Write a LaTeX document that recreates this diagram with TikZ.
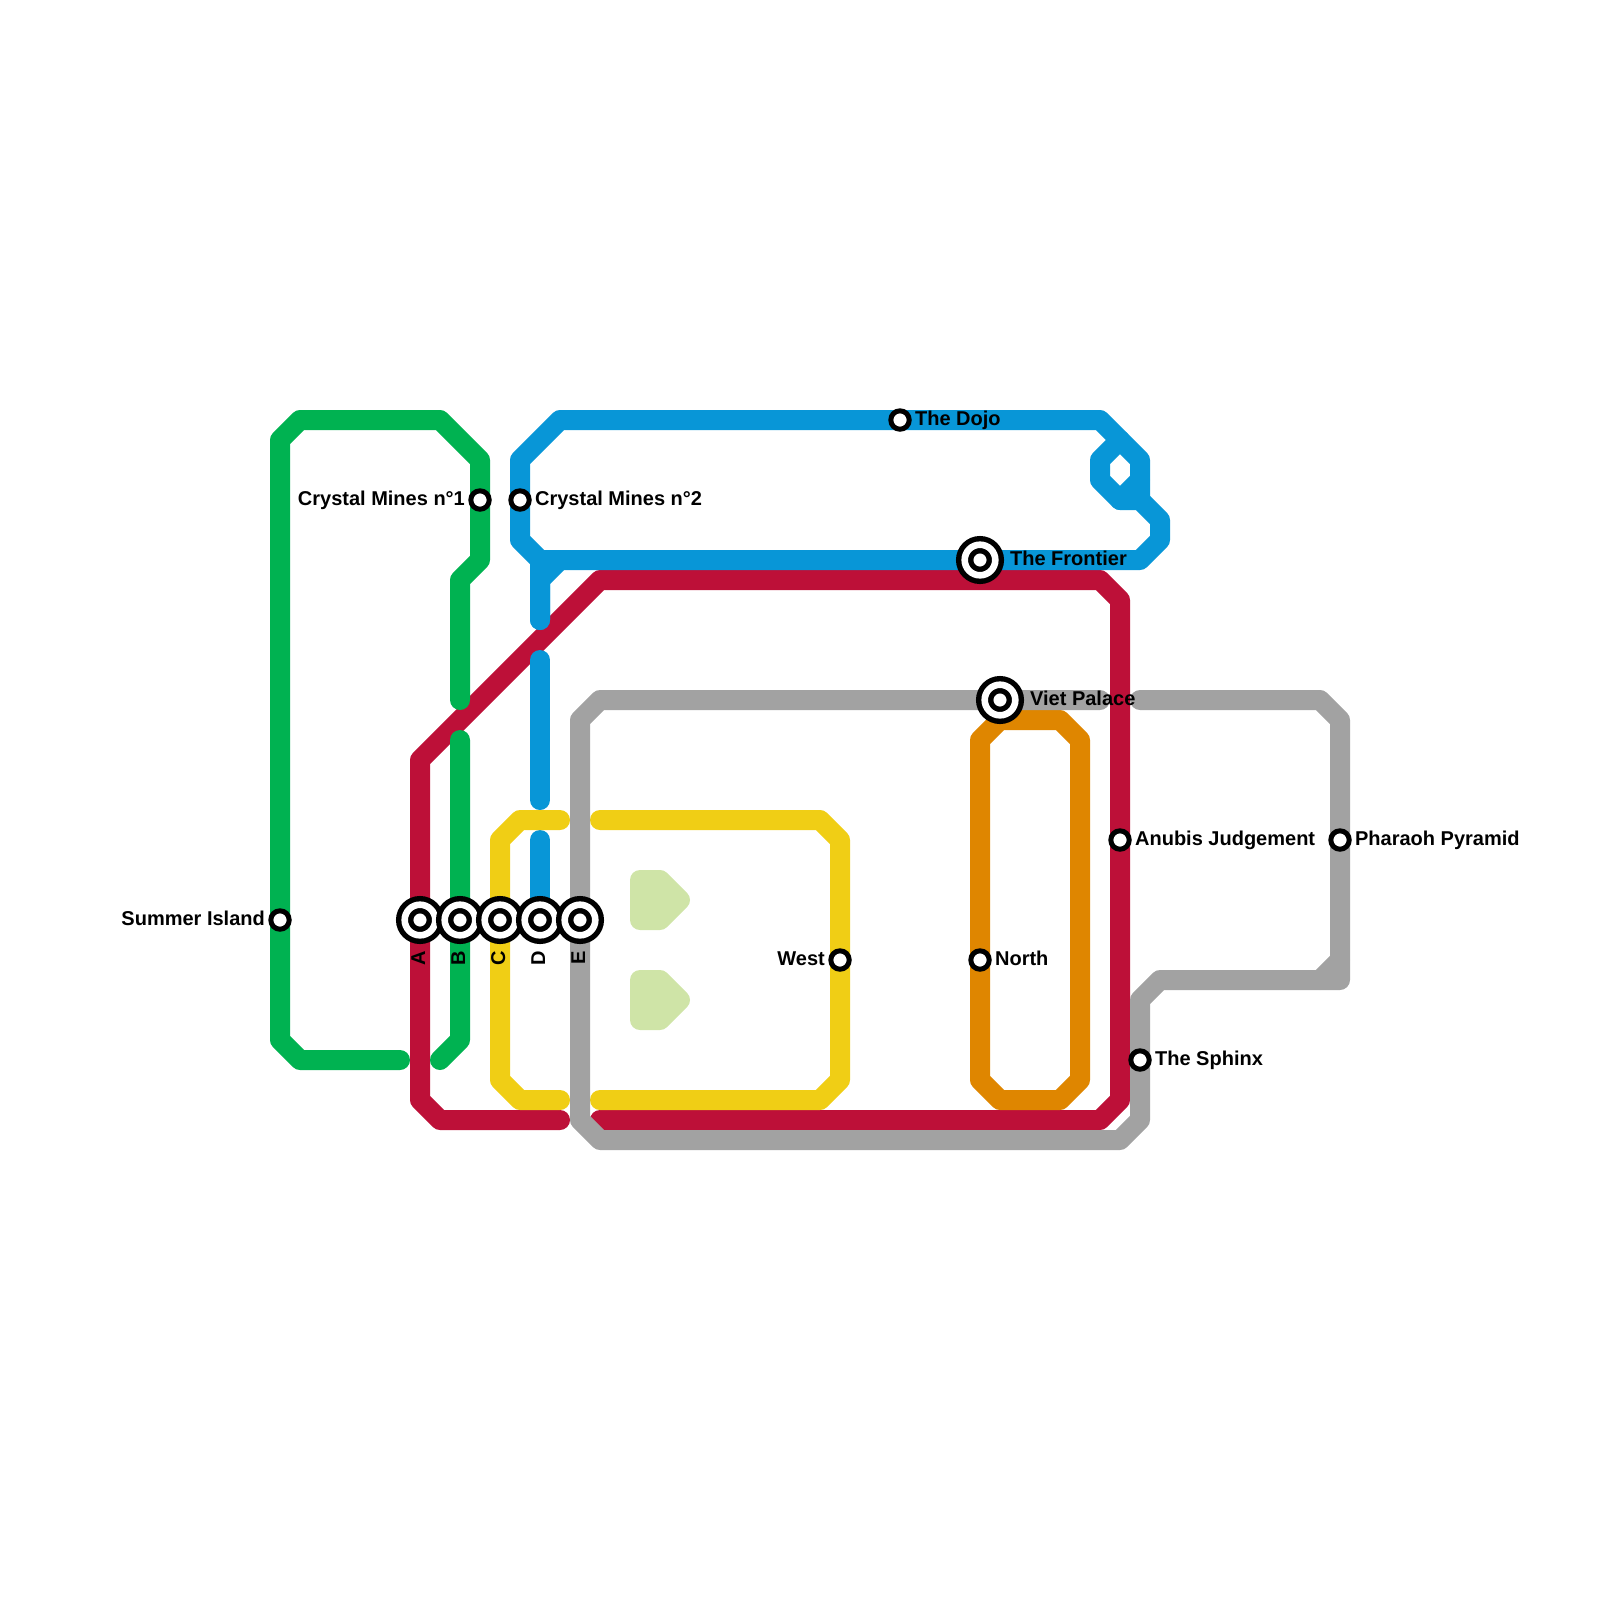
\documentclass[tikz,border=0pt]{standalone}
\usepackage{fontspec}
\setmainfont{Liberation Sans}
\definecolor{linered}{HTML}{BD1038}
\definecolor{linegreen}{HTML}{00B251}
\definecolor{lineblue}{HTML}{0896D7}
\definecolor{lineyellow}{HTML}{F0CE15}
\definecolor{lineorange}{HTML}{DF8600}
\definecolor{linegray}{HTML}{A2A2A2}
\definecolor{parkgreen}{HTML}{CFE4A7}
\tikzset{
  track/.style={line width=1cm, line cap=round, line join=round},
  park/.style={draw=parkgreen, fill=parkgreen, line width=1cm, line join=round},
  smallstat/.style={circle, draw=black, fill=white, line width=0.25cm, minimum size=0.92cm, inner sep=0pt, outer sep=0pt},
  bigstat/.style={circle, draw=black, fill=white, line width=0.27cm, double=white, double distance=0.33cm, minimum size=1.53cm, inner sep=0pt, outer sep=0pt},
  txtright/.style={anchor=base west, inner sep=0pt, font=\fontsize{28.45}{30}\selectfont\bfseries},
  txtleft/.style={anchor=base east, inner sep=0pt, font=\fontsize{28.45}{30}\selectfont\bfseries},
  txtdown/.style={rotate=90, anchor=base east, inner sep=0pt, font=\fontsize{28.45}{30}\selectfont\bfseries}
}
\begin{document}
\begin{tikzpicture}[x=1cm, y=-1cm]
  \useasboundingbox (0,0) rectangle (80,80);

  % parks
  \draw [park] (32,44) -- (33,44) -- (34,45) -- (33,46) -- (32,46) -- cycle;
  \draw [park] (32,49) -- (33,49) -- (34,50) -- (33,51) -- (32,51) -- cycle;

  % red goes first, the others sit on it
  \draw [track, linered] (28,56) -- (22,56) -- (21,55) -- (21,38) -- (30,29) -- (55,29) -- (56,30) -- (56,55) -- (55,56) -- (30,56);

  % green
  \draw [track, linegreen] (20,53) -- (15,53) -- (14,52) -- (14,22) -- (15,21) -- (22,21) -- (24,23) -- (24,28) -- (23,29) -- (23,35);
  \draw [track, linegreen] (23,37) -- (23,52) -- (22,53);

  % blue
  \draw [track, lineblue] (27,31) -- (27,28) -- (26,27) -- (26,23) -- (28,21) -- (55,21) -- (57,23) -- (57,25);
  \draw [track, lineblue] (56,22) -- (55,23) -- (55,24) -- (56,25) -- (57,25) -- (58,26) -- (58,27) -- (57,28) -- (27,28);
  \draw [track, lineblue] (56,25) -- (57,24);
  \draw [track, lineblue] (28,28) -- (27,29) -- (27,31);
  \draw [track, lineblue] (27,33) -- (27,40);
  \draw [track, lineblue] (27,42) -- (27,46);

  % yellow
  \draw [track, lineyellow] (28,41) -- (26,41) -- (25,42) -- (25,54) -- (26,55) -- (28,55);
  \draw [track, lineyellow] (30,41) -- (41,41) -- (42,42) -- (42,54) -- (41,55) -- (30,55);

  % orange
  \draw [track, lineorange] (49,37) -- (50,36) -- (53,36) -- (54,37) -- (54,54) -- (53,55) -- (50,55) -- (49,54) -- cycle;

  % gray
  \draw [track, linegray] (55,35) -- (30,35) -- (29,36) -- (29,56) -- (30,57) -- (56,57) -- (57,56) -- (57,50) -- (58,49) -- (67,49) -- (67,36) -- (66,35) -- (57,35);
  \draw [track, linegray] (66,49) -- (67,48);

  % stations
  \node (summer) [smallstat] at (14,46) {};
  \node (mines1) [smallstat] at (24,25) {};
  \node (mines2) [smallstat] at (26,25) {};
  \node (dojo) [smallstat] at (45,21) {};
  \node (anubis) [smallstat] at (56,42) {};
  \node (pharaoh) [smallstat] at (67,42) {};
  \node (west) [smallstat] at (42,48) {};
  \node (north) [smallstat] at (49,48) {};
  \node (sphinx) [smallstat] at (57,53) {};
  \node (frontier) [bigstat] at (49,28) {};
  \node (viet) [bigstat] at (50,35) {};
  \node (statA) [bigstat] at (21,46) {};
  \node (statB) [bigstat] at (23,46) {};
  \node (statC) [bigstat] at (25,46) {};
  \node (statD) [bigstat] at (27,46) {};
  \node (statE) [bigstat] at (29,46) {};

  % labels
  \node (summertxt) [txtleft] at (13.25,46.25) {Summer Island};
  \node (mines1txt) [txtleft] at (23.25,25.25) {Crystal Mines n°1};
  \node (mines2txt) [txtright] at (26.75,25.25) {Crystal Mines n°2};
  \node (dojotxt) [txtright] at (45.75,21.25) {The Dojo};
  \node (anubistxt) [txtright] at (56.75,42.25) {Anubis Judgement};
  \node (pharaohtxt) [txtright] at (67.75,42.25) {Pharaoh Pyramid};
  \node (westtxt) [txtleft] at (41.25,48.25) {West};
  \node (northtxt) [txtright] at (49.75,48.25) {North};
  \node (sphinxtxt) [txtright] at (57.75,53.25) {The Sphinx};
  \node (frontiertxt) [txtright] at (50.5,28.25) {The Frontier};
  \node (viettxt) [txtright] at (51.5,35.25) {Viet Palace};
  \node (statAtxt) [txtdown] at (21.25,47.55) {A};
  \node (statBtxt) [txtdown] at (23.25,47.55) {B};
  \node (statCtxt) [txtdown] at (25.25,47.55) {C};
  \node (statDtxt) [txtdown] at (27.25,47.55) {D};
  \node (statEtxt) [txtdown] at (29.25,47.55) {E};
\end{tikzpicture}
\end{document}
